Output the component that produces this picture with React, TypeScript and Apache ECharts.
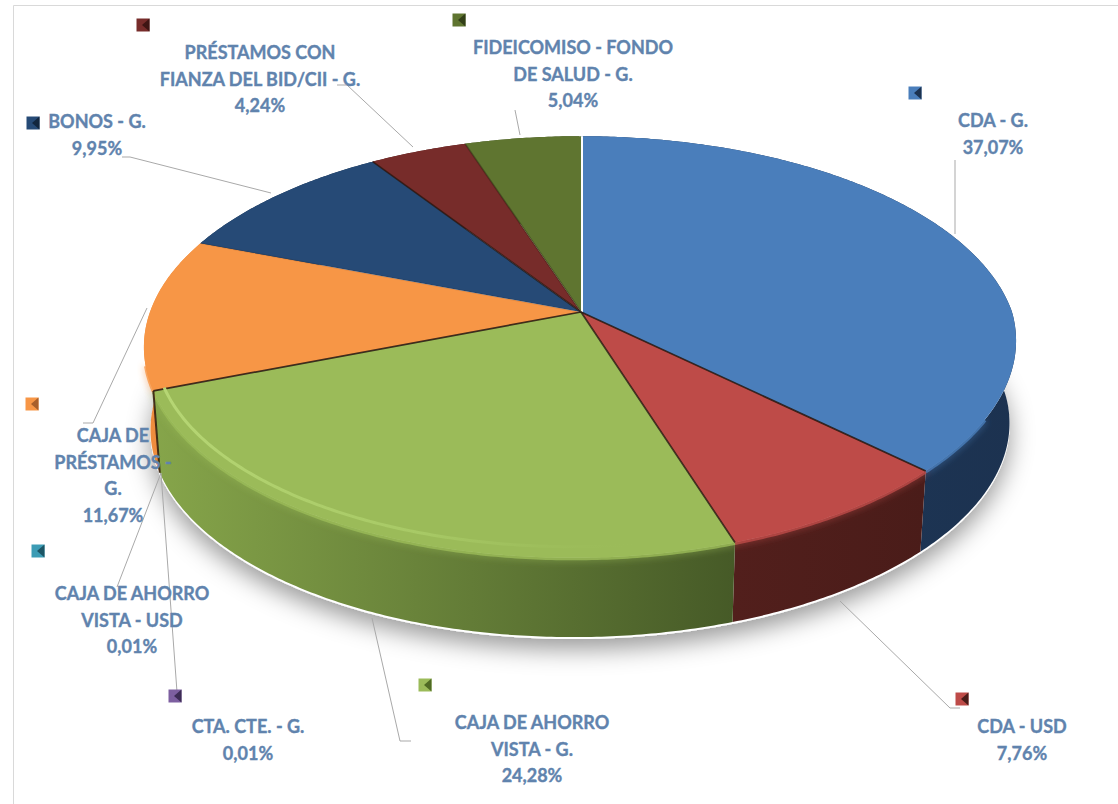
import React, { useEffect, useRef } from "react";
import * as echarts from "echarts";

const categories = [
  "CDA - G.",
  "CDA - USD",
  "CAJA DE AHORRO VISTA - G.",
  "CTA. CTE. - G.",
  "CAJA DE AHORRO VISTA - USD",
  "CAJA DE PRÉSTAMOS - G.",
  "BONOS - G.",
  "PRÉSTAMOS CON FIANZA DEL BID/CII - G.",
  "FIDEICOMISO - FONDO DE SALUD - G.",
];
const values = [37.07, 7.76, 24.28, 0.01, 0.01, 11.67, 9.95, 4.24, 5.04];
const valueLabels = ["37,07%", "7,76%", "24,28%", "0,01%", "0,01%", "11,67%", "9,95%", "4,24%", "5,04%"];
const labelLines = [
  ["CDA - G."],
  ["CDA - USD"],
  ["CAJA DE AHORRO", "VISTA - G."],
  ["CTA. CTE. - G."],
  ["CAJA DE AHORRO", "VISTA - USD"],
  ["CAJA DE", "PRÉSTAMOS -", "G."],
  ["BONOS - G."],
  ["PRÉSTAMOS CON", "FIANZA DEL BID/CII - G."],
  ["FIDEICOMISO - FONDO", "DE SALUD - G."],
];

const topColors = ["#4a7ebb", "#be4b48", "#9bbb59", "#7d5fa0", "#3c9cb5", "#f79646", "#264a76", "#772c2a", "#5f7530"];
const sideLeft = ["#1e3a5c", "#521f1c", "#86a54a", "#4a3760", "#23606f", "#ef8e3f", "#1a3350", "#4f1d1b", "#3f4f20"];
const sideRight = ["#1c3250", "#4a1c19", "#465a27", "#4a3760", "#23606f", "#e8863a", "#1a3350", "#4f1d1b", "#3f4f20"];
const keyDark = ["#1c3250", "#4a1c19", "#4f6a23", "#3d2c55", "#1c5565", "#a85f2c", "#12263e", "#3f1513", "#323f18"];
const edgeAlpha = [0, 0.85, 0.8, 0, 0, 0.85, 0.1, 0.7, 0.35];

const labelPos: number[][] = [
  [993, 120], [1022, 726], [532, 722], [248, 726], [132, 593], [113, 435], [97, 121], [260, 52], [573, 47],
];
const keyPos: number[][] = [
  [915, 93], [962, 699], [425, 685], [175, 696], [38, 551], [32, 404], [33, 123], [143, 25], [459, 20],
];
const leaders: number[][][] = [
  [[955, 160], [955, 234]],
  [[840, 601], [950, 708], [960, 708]],
  [[372, 618], [400, 741], [411, 741]],
  [[161, 473], [177, 692]],
  [[161, 473], [117, 587]],
  [[147, 308], [93, 423], [83, 423]],
  [[271, 193], [130, 157], [122, 157]],
  [[413, 147], [347, 85], [337, 85]],
  [[520, 135], [515, 110]],
];

const CX = 581, CY = 312, A = 431, B = 205, P = 0.166, Q = -13, DEPTH = 83, SHRINK = 0.985;
const total = values.reduce((s, v) => s + v, 0);
const starts: number[] = [];
values.reduce((s, v, i) => { starts[i] = s; return s + v; }, 0);
const toAngle = (c: number) => (c / total) * Math.PI * 2;

function project(t: number, lower: boolean): number[] {
  const u = Math.sin(t), v = -Math.cos(t), d = 1 - P * v;
  const s = lower ? SHRINK : 1;
  const skew = Q * v > 0 ? 0 : (Q * v * (1 + u)) / 2;
  return [CX + (A * s * u + skew) / d, CY + (lower ? DEPTH : 0) + (B * s * v) / d];
}
function arc(t0: number, t1: number, lower: boolean): number[][] {
  const n = Math.max(2, Math.ceil(Math.abs(t1 - t0) / 0.01));
  const pts: number[][] = [];
  for (let i = 0; i <= n; i++) pts.push(project(t0 + ((t1 - t0) * i) / n, lower));
  return pts;
}
const range = (i: number) => [toAngle(starts[i]), toAngle(starts[i] + values[i])];

function renderBase(params: any) {
  if (params.dataIndex !== 0) return { type: "group", children: [] };
  return {
    type: "polygon",
    shape: { points: arc(0, Math.PI * 2, true).map((p) => [p[0], p[1] + 2]) },
    style: { fill: "#ffffff", shadowColor: "rgba(0,0,0,0.4)", shadowBlur: 24, shadowOffsetY: 10 },
  };
}
function renderSide(params: any) {
  const i = params.dataIndex;
  const [t0, t1] = range(i);
  const points = arc(t0, t1, false).concat(arc(t0, t1, true).reverse());
  return {
    type: "polygon",
    shape: { points },
    style: {
      fill: new echarts.graphic.LinearGradient(0, 0, 1, 0, [
        { offset: 0, color: sideLeft[i] },
        { offset: 1, color: sideRight[i] },
      ]),
    },
  };
}
function renderRim(params: any) {
  const i = params.dataIndex;
  const [a0, a1] = range(i);
  const t0 = Math.max(a0, Math.PI * 0.66);
  const t1 = Math.min(a1, Math.PI * 1.42);
  if (t1 <= t0) return { type: "group", children: [] };
  return {
    type: "polyline",
    shape: { points: arc(t0, t1, false).map((p) => [p[0], p[1] + 1]) },
    style: { fill: "none", stroke: topColors[i], lineWidth: 3, opacity: 0.8, shadowColor: topColors[i], shadowBlur: 7 },
  };
}
function renderTop(params: any) {
  const i = params.dataIndex;
  const [t0, t1] = range(i);
  const centre = [CX, CY];
  const edge = project(t0, false);
  const low = project(t0, true);
  const first = i === 0;
  const alpha = edgeAlpha[i];
  const children: any[] = [
    { type: "polygon", shape: { points: [centre, ...arc(t0, t1, false)] }, style: { fill: topColors[i] } },
  ];
  if (i === 5) {
    children.push({
      type: "line",
      shape: { x1: edge[0], y1: edge[1], x2: low[0], y2: low[1] },
      style: { stroke: "rgba(45,25,10,0.85)", lineWidth: 2 },
    });
  }
  if (first) {
    children.push({
      type: "line",
      shape: { x1: centre[0], y1: centre[1], x2: edge[0], y2: edge[1] },
      style: { stroke: "#ffffff", lineWidth: 4 },
    });
  } else if (alpha > 0) {
    children.push({
      type: "line",
      shape: { x1: centre[0], y1: centre[1], x2: edge[0], y2: edge[1] },
      style: { stroke: `rgba(35,20,12,${alpha})`, lineWidth: 1.7 },
    });
  }
  return { type: "group", children };
}
// The light stripe just inside the rim of the large green slice, brightest at its left end.
function renderHighlight(params: any) {
  const i = params.dataIndex;
  if (values[i] !== Math.max(...values.slice(1))) return { type: "group", children: [] };
  const [t0, t1] = range(i);
  const points = arc(t0, t1, false).map((p) => [CX + (p[0] - CX) * 0.975, CY + (p[1] - CY) * 0.955]);
  return {
    type: "polyline",
    shape: { points },
    style: {
      fill: "none",
      lineWidth: 3,
      stroke: new echarts.graphic.LinearGradient(0, 0, 1, 0, [
        { offset: 0, color: "rgba(182,214,116,1)" },
        { offset: 0.45, color: "rgba(172,206,106,0.75)" },
        { offset: 0.85, color: "rgba(155,187,89,0)" },
        { offset: 1, color: "rgba(155,187,89,0)" },
      ]),
    },
  };
}

const FONT = 'bold 18px Lato, "Open Sans", sans-serif';
function textGraphics(): any[] {
  const out: any[] = [];
  labelLines.forEach((lines, i) => {
    const all = [...lines, valueLabels[i]];
    all.forEach((line, j) => {
      out.push({
        type: "text",
        silent: true,
        z: 10,
        style: {
          text: line,
          x: labelPos[i][0],
          y: labelPos[i][1] + j * 26.5,
          textAlign: "center",
          textVerticalAlign: "middle",
          font: FONT,
          fill: "#6083ad",
          stroke: "#6083ad",
          lineWidth: 0.35,
        },
      });
    });
  });
  return out;
}
function leaderGraphics(): any[] {
  return leaders.map((pts) => ({
    type: "polyline",
    silent: true,
    z: 9,
    shape: { points: pts },
    style: { fill: "none", stroke: "#a9a9a9", lineWidth: 1 },
  }));
}
function keyGraphics(): any[] {
  const out: any[] = [];
  keyPos.forEach(([x, y], i) => {
    out.push({
      type: "rect",
      silent: true,
      z: 9,
      shape: { x: x - 6.5, y: y - 6.5, width: 13, height: 13 },
      style: { fill: topColors[i] },
    });
    out.push({
      type: "polygon",
      silent: true,
      z: 9,
      shape: { points: [[x + 6.5, y - 6.5], [x + 6.5, y + 6.5], [x - 1, y]] },
      style: { fill: keyDark[i] },
    });
  });
  return out;
}
function frameGraphics(): any[] {
  return [
    {
      type: "polyline",
      silent: true,
      z: 0,
      shape: { points: [[13.5, 804], [13.5, 5.5], [1118, 5.5]] },
      style: { fill: "none", stroke: "#d9d9d9", lineWidth: 1 },
    },
  ];
}

export default function App() {
  const ref = useRef<HTMLDivElement>(null);
  useEffect(() => {
    document.body.style.margin = "0";
    const chart = echarts.init(ref.current!, null, { renderer: "svg" });
    const seriesData = categories.map((name, i) => ({ name, value: values[i] }));
    const custom = (renderItem: any, z: number) => ({
      type: "custom",
      coordinateSystem: "none",
      silent: true,
      z,
      data: seriesData,
      renderItem,
    });
    chart.setOption({
      animation: false,
      backgroundColor: "#ffffff",
      tooltip: { show: false },
      graphic: [...frameGraphics(), ...leaderGraphics(), ...keyGraphics(), ...textGraphics()],
      series: [
        custom(renderBase, 1),
        custom(renderSide, 2),
        custom(renderRim, 3),
        custom(renderTop, 4),
        custom(renderHighlight, 5),
      ],
    });
    return () => chart.dispose();
  }, []);
  return <div ref={ref} style={{ width: 1118, height: 804 }} />;
}
